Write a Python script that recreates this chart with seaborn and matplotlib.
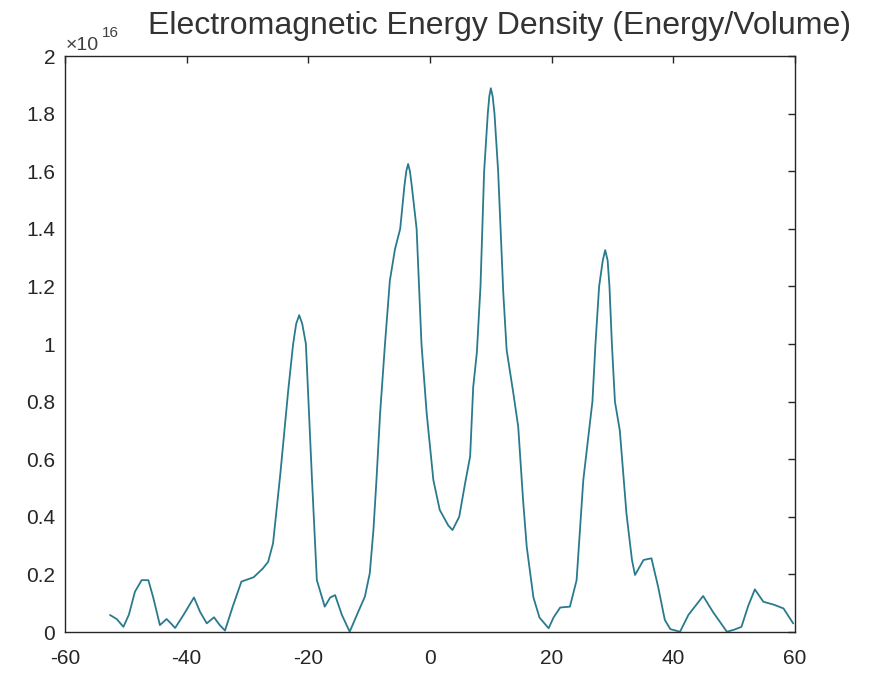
import numpy as np
import matplotlib
matplotlib.use("Agg")
import matplotlib.pyplot as plt
import seaborn as sns

# position along the axis and energy density (in units of 1e16)
position = [
    -52.6, -51.5, -50.4, -49.5, -48.5, -47.4, -46.3, -45.5, -44.4, -43.3,
    -42.6, -41.9, -40.5, -38.8, -37.8, -36.7, -35.5, -34.6, -33.7, -32.4,
    -31.0, -29.0, -27.5, -26.6, -25.8, -24.6, -23.3, -22.5, -22.0, -21.5,
    -21.0, -20.4, -19.4, -18.6, -17.3, -16.4, -15.6, -14.5, -13.2, -11.8,
    -10.7, -9.9, -9.3, -8.8, -8.2, -7.4, -6.6, -5.75, -4.9, -4.2,
    -3.9, -3.6, -3.3, -3.0, -2.2, -1.4, -0.55, 0.55, 1.6, 3.0,
    3.7, 4.8, 5.8, 6.6, 7.1, 7.7, 8.3, 8.9, 9.5, 9.75,
    10.0, 10.3, 10.6, 11.2, 12.05, 12.6, 13.7, 14.5, 15.3, 15.9,
    17.0, 18.0, 19.5, 20.3, 21.4, 23.0, 24.1, 25.2, 26.7, 27.2,
    27.8, 28.4, 28.8, 29.2, 29.5, 29.9, 30.4, 31.2, 32.3, 33.2,
    33.7, 35.1, 36.4, 37.5, 38.6, 39.5, 41.1, 42.5, 44.9, 46.5,
    48.8, 50.0, 51.2, 52.3, 53.4, 54.8, 56.5, 58.1, 59.7,
]
energy_density = [
    0.059, 0.045, 0.018, 0.06, 0.14, 0.18, 0.18, 0.12, 0.024, 0.045,
    0.03, 0.014, 0.06, 0.12, 0.07, 0.03, 0.051, 0.025, 0.005, 0.09,
    0.175, 0.19, 0.22, 0.244, 0.308, 0.55, 0.84, 1.0, 1.07, 1.10,
    1.07, 1.0, 0.53, 0.18, 0.088, 0.12, 0.128, 0.06, 0.001, 0.07,
    0.123, 0.204, 0.354, 0.528, 0.76, 1.0, 1.22, 1.33, 1.4, 1.55,
    1.60, 1.625, 1.60, 1.55, 1.4, 1.0, 0.76, 0.528, 0.424, 0.37,
    0.354, 0.40, 0.52, 0.61, 0.85, 0.97, 1.2, 1.6, 1.8, 1.86,
    1.888, 1.86, 1.8, 1.6, 1.176, 0.979, 0.829, 0.713, 0.458, 0.296,
    0.12, 0.05, 0.013, 0.05, 0.085, 0.088, 0.18, 0.528, 0.8, 1.0,
    1.2, 1.29, 1.326, 1.29, 1.2, 1.0, 0.8, 0.70, 0.41, 0.25,
    0.198, 0.25, 0.256, 0.157, 0.042, 0.01, 0.001, 0.06, 0.125, 0.07,
    0.001, 0.008, 0.018, 0.09, 0.148, 0.105, 0.095, 0.082, 0.03,
]

x_ticks = [-60, -40, -20, 0, 20, 40, 60]
y_ticks = [0, 0.2, 0.4, 0.6, 0.8, 1, 1.2, 1.4, 1.6, 1.8, 2]

sns.set_theme(style="white")
plt.rcParams['font.family'] = ['Liberation Sans', 'DejaVu Sans']

text_col = '#262626'
fig = plt.figure(figsize=(8.77, 6.73), dpi=100)
ax = fig.add_axes([65 / 877, 41 / 673, 730 / 877, 576 / 673])

sns.lineplot(x=position, y=energy_density, ax=ax, color='#2a7a8e', linewidth=1.3)

ax.set_xlim(-60, 60)
ax.set_ylim(0, 2)
ax.set_xticks(x_ticks)
ax.set_yticks(y_ticks)
ax.set_xticklabels([f"{t:g}" for t in x_ticks])
ax.set_yticklabels([f"{t:g}" for t in y_ticks])
ax.tick_params(direction='in', length=5, width=1, top=True, right=True,
               labelsize=15, colors=text_col)
ax.tick_params(axis='x', pad=12)
ax.tick_params(axis='y', pad=7)
for s in ax.spines.values():
    s.set_color(text_col)
    s.set_linewidth(1)

# MATLAB-style exponent above the y axis
fig.text(66 / 877, 1 - 50 / 673, "\u00d710", fontsize=14, color='#404040', ha='left', va='baseline')
fig.text(102 / 877, 1 - 37 / 673, "16", fontsize=11, color='#404040', ha='left', va='baseline')

fig.text(499 / 877, 1 - 34 / 673, "Electromagnetic Energy Density (Energy/Volume)",
         fontsize=23, color='#333333', ha='center', va='baseline')

fig.savefig("out.png", dpi=100)
